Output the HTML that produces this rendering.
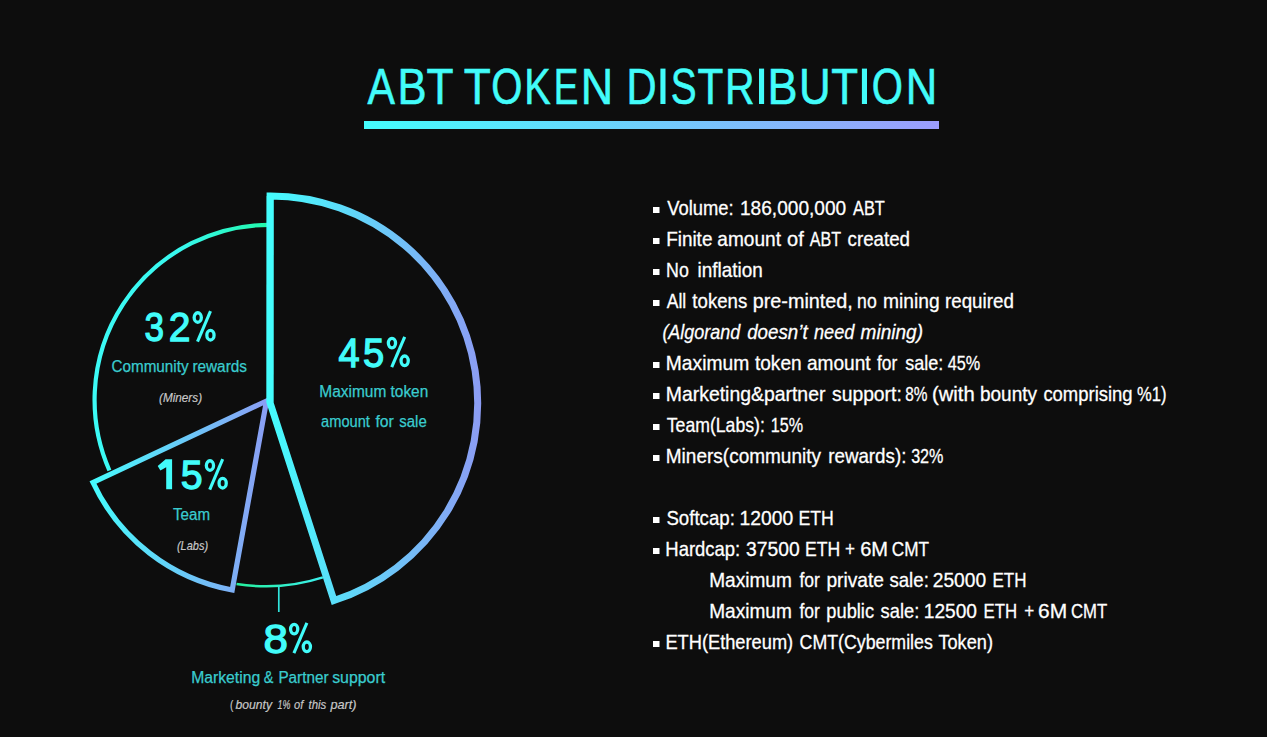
<!DOCTYPE html>
<html><head><meta charset="utf-8">
<style>
html,body{margin:0;padding:0;background:#0d0d0d;width:1267px;height:737px;overflow:hidden;}
svg{display:block;}
text{font-family:"Liberation Sans",sans-serif;}
</style></head>
<body>
<svg width="1267" height="737" viewBox="0 0 1267 737">
<defs>
<linearGradient id="gbar" x1="0" y1="0" x2="1" y2="0">
<stop offset="0" stop-color="#44fdfd"/><stop offset="1" stop-color="#9c9cfc"/>
</linearGradient>
<linearGradient id="g45" gradientUnits="userSpaceOnUse" x1="267" y1="0" x2="481" y2="0">
<stop offset="0" stop-color="#44fdfd"/><stop offset="1" stop-color="#8c9cf4"/>
</linearGradient>
<linearGradient id="g15" gradientUnits="userSpaceOnUse" x1="89" y1="0" x2="270" y2="0">
<stop offset="0" stop-color="#44fdfd"/><stop offset="1" stop-color="#8c9cf4"/>
</linearGradient>
<linearGradient id="g32" gradientUnits="userSpaceOnUse" x1="92" y1="0" x2="270" y2="0">
<stop offset="0" stop-color="#3cfaf6"/><stop offset="0.5" stop-color="#38f8ee"/><stop offset="1" stop-color="#20f8a8"/>
</linearGradient>
<linearGradient id="g8" gradientUnits="userSpaceOnUse" x1="236" y1="0" x2="323" y2="0">
<stop offset="0" stop-color="#24f09c"/><stop offset="1" stop-color="#3cf0ee"/>
</linearGradient>
</defs>
<g id="shapes">
<rect x="364" y="121" width="575" height="8" fill="url(#gbar)"/>
<path d="M 109.4 470.5 A 175.2 175.2 0 0 1 270 224.8" fill="none" stroke="url(#g32)" stroke-width="4.2"/>
<path d="M 236.5 583.9 A 186 186 0 0 0 322.9 577.4" fill="none" stroke="url(#g8)" stroke-width="2.5"/>
<line x1="278.8" y1="586" x2="278.8" y2="612" stroke="#30e4dc" stroke-width="1.7"/>
<path d="M 266.5 401 L 93 482.5 A 192 192 0 0 0 232.2 590 Z" fill="none" stroke="url(#g15)" stroke-width="5.2" stroke-linejoin="miter"/>
<path d="M 270 402.5 L 270.1 195.9 A 207.3 207.3 0 0 1 334 600.5 Z" fill="none" stroke="url(#g45)" stroke-width="7" stroke-linejoin="miter"/>
<path d="M 270 402.5 L 270.1 195.9" fill="none" stroke="#44fdfd" stroke-width="6.8"/>
<rect x="653" y="207" width="6.5" height="6" fill="#ffffff"/>
<rect x="653" y="238" width="6.5" height="6" fill="#ffffff"/>
<rect x="653" y="269" width="6.5" height="6" fill="#ffffff"/>
<rect x="653" y="300" width="6.5" height="6" fill="#ffffff"/>
<rect x="653" y="362" width="6.5" height="6" fill="#ffffff"/>
<rect x="653" y="393" width="6.5" height="6" fill="#ffffff"/>
<rect x="653" y="424" width="6.5" height="6" fill="#ffffff"/>
<rect x="653" y="455" width="6.5" height="6" fill="#ffffff"/>
<rect x="653" y="517" width="6.5" height="6" fill="#ffffff"/>
<rect x="653" y="548" width="6.5" height="6" fill="#ffffff"/>
<rect x="653" y="641" width="6.5" height="6" fill="#ffffff"/>
</g>
<g id="pcts">
<rect id="titleI" x="660.4" y="68.6" width="5.1" height="35.4" fill="#42fcfa"/>
<rect x="759.0" y="68.6" width="5.1" height="35.4" fill="#42fcfa"/>
<rect x="861.9" y="68.6" width="5.1" height="35.4" fill="#42fcfa"/>

<defs><g id="pct" fill="none" stroke="#42fcfa">
<ellipse cx="5.15" cy="6.9" rx="3.6" ry="4.75" stroke-width="3.3"/>
<ellipse cx="17.85" cy="24.6" rx="3.6" ry="4.8" stroke-width="3.3"/>
<line x1="17.9" y1="0.6" x2="4.9" y2="31.0" stroke-width="3.1"/>
</g></defs>
<path id="one15" d="M 165.6 459.2 L 172.1 459.2 L 172.1 489.3 L 166.2 489.3 L 166.2 467.2 L 160.4 470.6 L 157.7 466.0 Z" fill="#42fcfa"/>
<use href="#pct" x="192.6" y="310.6"/>
<use href="#pct" x="386.8" y="336.2"/>
<use href="#pct" x="204.8" y="458.6"/>
<use href="#pct" x="289.0" y="622.2"/>
</g>
<text id="tl0" x="367.56" y="104.00" style="font-size:50.50px;fill:#42fcfa;stroke:#42fcfa;stroke-width:0.6px;" textLength="27.47" lengthAdjust="spacingAndGlyphs">A</text>
<text id="tl1" x="397.45" y="104.00" style="font-size:50.50px;fill:#42fcfa;stroke:#42fcfa;stroke-width:0.6px;" textLength="29.11" lengthAdjust="spacingAndGlyphs">B</text>
<text id="tl2" x="426.59" y="104.00" style="font-size:50.50px;fill:#42fcfa;stroke:#42fcfa;stroke-width:0.6px;" textLength="27.04" lengthAdjust="spacingAndGlyphs">T</text>
<text id="tl3" x="463.78" y="104.00" style="font-size:50.50px;fill:#42fcfa;stroke:#42fcfa;stroke-width:0.6px;" textLength="27.04" lengthAdjust="spacingAndGlyphs">T</text>
<text id="tl4" x="491.33" y="104.00" style="font-size:50.50px;fill:#42fcfa;stroke:#42fcfa;stroke-width:0.6px;" textLength="31.15" lengthAdjust="spacingAndGlyphs">O</text>
<text id="tl5" x="524.36" y="104.00" style="font-size:50.50px;fill:#42fcfa;stroke:#42fcfa;stroke-width:0.6px;" textLength="26.42" lengthAdjust="spacingAndGlyphs">K</text>
<text id="tl6" x="553.69" y="104.00" style="font-size:50.50px;fill:#42fcfa;stroke:#42fcfa;stroke-width:0.6px;" textLength="24.57" lengthAdjust="spacingAndGlyphs">E</text>
<text id="tl7" x="580.82" y="104.00" style="font-size:50.50px;fill:#42fcfa;stroke:#42fcfa;stroke-width:0.6px;" textLength="32.42" lengthAdjust="spacingAndGlyphs">N</text>
<text id="tl8" x="626.51" y="104.00" style="font-size:50.50px;fill:#42fcfa;stroke:#42fcfa;stroke-width:0.6px;" textLength="30.11" lengthAdjust="spacingAndGlyphs">D</text>
<text id="tl10" x="670.65" y="104.00" style="font-size:50.50px;fill:#42fcfa;stroke:#42fcfa;stroke-width:0.6px;" textLength="25.86" lengthAdjust="spacingAndGlyphs">S</text>
<text id="tl11" x="697.39" y="104.00" style="font-size:50.50px;fill:#42fcfa;stroke:#42fcfa;stroke-width:0.6px;" textLength="25.82" lengthAdjust="spacingAndGlyphs">T</text>
<text id="tl12" x="724.92" y="104.00" style="font-size:50.50px;fill:#42fcfa;stroke:#42fcfa;stroke-width:0.6px;" textLength="29.57" lengthAdjust="spacingAndGlyphs">R</text>
<text id="tl14" x="767.56" y="104.00" style="font-size:50.50px;fill:#42fcfa;stroke:#42fcfa;stroke-width:0.6px;" textLength="30.03" lengthAdjust="spacingAndGlyphs">B</text>
<text id="tl15" x="799.10" y="104.00" style="font-size:50.50px;fill:#42fcfa;stroke:#42fcfa;stroke-width:0.6px;" textLength="31.68" lengthAdjust="spacingAndGlyphs">U</text>
<text id="tl16" x="831.20" y="104.00" style="font-size:50.50px;fill:#42fcfa;stroke:#42fcfa;stroke-width:0.6px;" textLength="26.81" lengthAdjust="spacingAndGlyphs">T</text>
<text id="tl18" x="871.70" y="104.00" style="font-size:50.50px;fill:#42fcfa;stroke:#42fcfa;stroke-width:0.6px;" textLength="31.15" lengthAdjust="spacingAndGlyphs">O</text>
<text id="tl19" x="905.85" y="104.00" style="font-size:50.50px;fill:#42fcfa;stroke:#42fcfa;stroke-width:0.6px;" textLength="31.46" lengthAdjust="spacingAndGlyphs">N</text>
<text id="p32a" x="144.38" y="341.30" style="font-size:41.50px;fill:#42fcfa;stroke:#42fcfa;stroke-width:1.3px;" textLength="19.54" lengthAdjust="spacingAndGlyphs">3</text>
<text id="p32b" x="168.70" y="341.30" style="font-size:41.50px;fill:#42fcfa;stroke:#42fcfa;stroke-width:1.3px;" textLength="21.71" lengthAdjust="spacingAndGlyphs">2</text>
<text id="l32_0" x="111.50" y="371.50" style="font-size:16.00px;fill:#3acccf;stroke:#3acccf;stroke-width:0.25px;" textLength="77.00" lengthAdjust="spacingAndGlyphs">Community</text>
<text id="l32_1" x="192.38" y="371.50" style="font-size:16.00px;fill:#3acccf;stroke:#3acccf;stroke-width:0.25px;" textLength="54.62" lengthAdjust="spacingAndGlyphs">rewards</text>
<text id="n32" x="159.00" y="401.50" style="font-size:13.50px;fill:#c8c8c8;stroke:#c8c8c8;stroke-width:0.2px;font-style:italic;" textLength="43.04" lengthAdjust="spacingAndGlyphs">(Miners)</text>
<text id="p45a" x="338.57" y="366.80" style="font-size:41.50px;fill:#42fcfa;stroke:#42fcfa;stroke-width:1.3px;" textLength="21.13" lengthAdjust="spacingAndGlyphs">4</text>
<text id="p45b" x="362.92" y="366.80" style="font-size:41.50px;fill:#42fcfa;stroke:#42fcfa;stroke-width:1.3px;" textLength="21.19" lengthAdjust="spacingAndGlyphs">5</text>
<text id="l45a_0" x="319.28" y="397.00" style="font-size:16.00px;fill:#3acccf;stroke:#3acccf;stroke-width:0.25px;" textLength="67.03" lengthAdjust="spacingAndGlyphs">Maximum</text>
<text id="l45a_1" x="390.57" y="397.00" style="font-size:16.00px;fill:#3acccf;stroke:#3acccf;stroke-width:0.25px;" textLength="37.65" lengthAdjust="spacingAndGlyphs">token</text>
<text id="l45b_0" x="321.10" y="426.60" style="font-size:16.00px;fill:#3acccf;stroke:#3acccf;stroke-width:0.25px;" textLength="48.82" lengthAdjust="spacingAndGlyphs">amount</text>
<text id="l45b_1" x="375.43" y="426.60" style="font-size:16.00px;fill:#3acccf;stroke:#3acccf;stroke-width:0.25px;" textLength="18.34" lengthAdjust="spacingAndGlyphs">for</text>
<text id="l45b_2" x="399.24" y="426.60" style="font-size:16.00px;fill:#3acccf;stroke:#3acccf;stroke-width:0.25px;" textLength="27.53" lengthAdjust="spacingAndGlyphs">sale</text>
<text id="p15b" x="180.69" y="489.30" style="font-size:41.50px;fill:#42fcfa;stroke:#42fcfa;stroke-width:1.3px;" textLength="21.87" lengthAdjust="spacingAndGlyphs">5</text>
<text id="l15" x="172.98" y="519.60" style="font-size:16.00px;fill:#3acccf;stroke:#3acccf;stroke-width:0.25px;" textLength="37.07" lengthAdjust="spacingAndGlyphs">Team</text>
<text id="n15" x="176.98" y="549.50" style="font-size:13.50px;fill:#c8c8c8;stroke:#c8c8c8;stroke-width:0.2px;font-style:italic;" textLength="31.10" lengthAdjust="spacingAndGlyphs">(Labs)</text>
<text id="p8d" x="263.46" y="653.00" style="font-size:41.50px;fill:#42fcfa;stroke:#42fcfa;stroke-width:1.3px;" textLength="24.44" lengthAdjust="spacingAndGlyphs">8</text>
<text id="l8_0" x="191.19" y="682.80" style="font-size:16.00px;fill:#3acccf;stroke:#3acccf;stroke-width:0.25px;" textLength="68.92" lengthAdjust="spacingAndGlyphs">Marketing</text>
<text id="l8_1" x="263.64" y="682.80" style="font-size:16.00px;fill:#3acccf;stroke:#3acccf;stroke-width:0.25px;" textLength="9.63" lengthAdjust="spacingAndGlyphs">&amp;</text>
<text id="l8_2" x="278.38" y="682.80" style="font-size:16.00px;fill:#3acccf;stroke:#3acccf;stroke-width:0.25px;" textLength="50.13" lengthAdjust="spacingAndGlyphs">Partner</text>
<text id="l8_3" x="332.18" y="682.80" style="font-size:16.00px;fill:#3acccf;stroke:#3acccf;stroke-width:0.25px;" textLength="52.93" lengthAdjust="spacingAndGlyphs">support</text>
<text id="n8_0" x="230.00" y="708.50" style="font-size:13.50px;fill:#c8c8c8;stroke:#c8c8c8;stroke-width:0.2px;" textLength="3.36" lengthAdjust="spacingAndGlyphs">(</text>
<text id="n8_1" x="235.46" y="708.50" style="font-size:13.50px;fill:#c8c8c8;stroke:#c8c8c8;stroke-width:0.2px;font-style:italic;" textLength="36.56" lengthAdjust="spacingAndGlyphs">bounty</text>
<text id="n8_2" x="277.46" y="708.50" style="font-size:13.50px;fill:#c8c8c8;stroke:#c8c8c8;stroke-width:0.2px;font-style:italic;" textLength="12.86" lengthAdjust="spacingAndGlyphs">1%</text>
<text id="n8_3" x="294.00" y="708.50" style="font-size:13.50px;fill:#c8c8c8;stroke:#c8c8c8;stroke-width:0.2px;font-style:italic;" textLength="9.26" lengthAdjust="spacingAndGlyphs">of</text>
<text id="n8_4" x="308.53" y="708.50" style="font-size:13.50px;fill:#c8c8c8;stroke:#c8c8c8;stroke-width:0.2px;font-style:italic;" textLength="17.81" lengthAdjust="spacingAndGlyphs">this</text>
<text id="n8_5" x="330.50" y="708.50" style="font-size:13.50px;fill:#c8c8c8;stroke:#c8c8c8;stroke-width:0.2px;font-style:italic;" textLength="26.03" lengthAdjust="spacingAndGlyphs">part)</text>
<text id="r0_0" x="667.17" y="214.70" style="font-size:20.30px;fill:#ffffff;stroke:#ffffff;stroke-width:0.3px;" textLength="66.44" lengthAdjust="spacingAndGlyphs">Volume:</text>
<text id="r0_1" x="739.98" y="214.70" style="font-size:20.30px;fill:#ffffff;stroke:#ffffff;stroke-width:0.3px;" textLength="106.23" lengthAdjust="spacingAndGlyphs">186,000,000</text>
<text id="r0_2" x="852.95" y="214.70" style="font-size:20.30px;fill:#ffffff;stroke:#ffffff;stroke-width:0.3px;" textLength="31.91" lengthAdjust="spacingAndGlyphs">ABT</text>
<text id="r1_0" x="666.16" y="245.70" style="font-size:20.30px;fill:#ffffff;stroke:#ffffff;stroke-width:0.3px;" textLength="46.25" lengthAdjust="spacingAndGlyphs">Finite</text>
<text id="r1_1" x="717.37" y="245.70" style="font-size:20.30px;fill:#ffffff;stroke:#ffffff;stroke-width:0.3px;" textLength="63.65" lengthAdjust="spacingAndGlyphs">amount</text>
<text id="r1_2" x="787.00" y="245.70" style="font-size:20.30px;fill:#ffffff;stroke:#ffffff;stroke-width:0.3px;" textLength="16.71" lengthAdjust="spacingAndGlyphs">of</text>
<text id="r1_3" x="809.78" y="245.70" style="font-size:20.30px;fill:#ffffff;stroke:#ffffff;stroke-width:0.3px;" textLength="31.30" lengthAdjust="spacingAndGlyphs">ABT</text>
<text id="r1_4" x="847.59" y="245.70" style="font-size:20.30px;fill:#ffffff;stroke:#ffffff;stroke-width:0.3px;" textLength="62.42" lengthAdjust="spacingAndGlyphs">created</text>
<text id="r2_0" x="666.11" y="276.70" style="font-size:20.30px;fill:#ffffff;stroke:#ffffff;stroke-width:0.3px;" textLength="22.75" lengthAdjust="spacingAndGlyphs">No</text>
<text id="r2_1" x="697.59" y="276.70" style="font-size:20.30px;fill:#ffffff;stroke:#ffffff;stroke-width:0.3px;" textLength="65.22" lengthAdjust="spacingAndGlyphs">inflation</text>
<text id="r3_0" x="666.68" y="307.70" style="font-size:20.30px;fill:#ffffff;stroke:#ffffff;stroke-width:0.3px;" textLength="19.55" lengthAdjust="spacingAndGlyphs">All</text>
<text id="r3_1" x="692.37" y="307.70" style="font-size:20.30px;fill:#ffffff;stroke:#ffffff;stroke-width:0.3px;" textLength="54.86" lengthAdjust="spacingAndGlyphs">tokens</text>
<text id="r3_2" x="752.78" y="307.70" style="font-size:20.30px;fill:#ffffff;stroke:#ffffff;stroke-width:0.3px;" textLength="100.05" lengthAdjust="spacingAndGlyphs">pre-minted,</text>
<text id="r3_3" x="857.12" y="307.70" style="font-size:20.30px;fill:#ffffff;stroke:#ffffff;stroke-width:0.3px;" textLength="19.59" lengthAdjust="spacingAndGlyphs">no</text>
<text id="r3_4" x="883.00" y="307.70" style="font-size:20.30px;fill:#ffffff;stroke:#ffffff;stroke-width:0.3px;" textLength="56.62" lengthAdjust="spacingAndGlyphs">mining</text>
<text id="r3_5" x="945.00" y="307.70" style="font-size:20.30px;fill:#ffffff;stroke:#ffffff;stroke-width:0.3px;" textLength="68.82" lengthAdjust="spacingAndGlyphs">required</text>
<text id="r4_0" x="662.39" y="338.70" style="font-size:20.30px;fill:#ffffff;stroke:#ffffff;stroke-width:0.3px;font-style:italic;" textLength="77.86" lengthAdjust="spacingAndGlyphs">(Algorand</text>
<text id="r4_1" x="747.17" y="338.70" style="font-size:20.30px;fill:#ffffff;stroke:#ffffff;stroke-width:0.3px;font-style:italic;" textLength="60.45" lengthAdjust="spacingAndGlyphs">doesn’t</text>
<text id="r4_2" x="814.00" y="338.70" style="font-size:20.30px;fill:#ffffff;stroke:#ffffff;stroke-width:0.3px;font-style:italic;" textLength="40.47" lengthAdjust="spacingAndGlyphs">need</text>
<text id="r4_3" x="860.58" y="338.70" style="font-size:20.30px;fill:#ffffff;stroke:#ffffff;stroke-width:0.3px;font-style:italic;" textLength="62.42" lengthAdjust="spacingAndGlyphs">mining)</text>
<text id="r5_0" x="665.77" y="369.70" style="font-size:20.30px;fill:#ffffff;stroke:#ffffff;stroke-width:0.3px;" textLength="83.44" lengthAdjust="spacingAndGlyphs">Maximum</text>
<text id="r5_1" x="754.94" y="369.70" style="font-size:20.30px;fill:#ffffff;stroke:#ffffff;stroke-width:0.3px;" textLength="46.74" lengthAdjust="spacingAndGlyphs">token</text>
<text id="r5_2" x="806.96" y="369.70" style="font-size:20.30px;fill:#ffffff;stroke:#ffffff;stroke-width:0.3px;" textLength="63.67" lengthAdjust="spacingAndGlyphs">amount</text>
<text id="r5_3" x="877.06" y="369.70" style="font-size:20.30px;fill:#ffffff;stroke:#ffffff;stroke-width:0.3px;" textLength="20.25" lengthAdjust="spacingAndGlyphs">for</text>
<text id="r5_4" x="905.16" y="369.70" style="font-size:20.30px;fill:#ffffff;stroke:#ffffff;stroke-width:0.3px;" textLength="38.10" lengthAdjust="spacingAndGlyphs">sale:</text>
<text id="r5_5" x="947.76" y="369.70" style="font-size:20.30px;fill:#ffffff;stroke:#ffffff;stroke-width:0.3px;" textLength="32.46" lengthAdjust="spacingAndGlyphs">45%</text>
<text id="r6_0" x="665.79" y="400.70" style="font-size:20.30px;fill:#ffffff;stroke:#ffffff;stroke-width:0.3px;" textLength="159.62" lengthAdjust="spacingAndGlyphs">Marketing&amp;partner</text>
<text id="r6_1" x="831.98" y="400.70" style="font-size:20.30px;fill:#ffffff;stroke:#ffffff;stroke-width:0.3px;" textLength="69.84" lengthAdjust="spacingAndGlyphs">support:</text>
<text id="r6_2" x="905.27" y="400.70" style="font-size:20.30px;fill:#ffffff;stroke:#ffffff;stroke-width:0.3px;" textLength="22.23" lengthAdjust="spacingAndGlyphs">8%</text>
<text id="r6_3" x="931.96" y="400.70" style="font-size:20.30px;fill:#ffffff;stroke:#ffffff;stroke-width:0.3px;" textLength="42.68" lengthAdjust="spacingAndGlyphs">(with</text>
<text id="r6_4" x="979.98" y="400.70" style="font-size:20.30px;fill:#ffffff;stroke:#ffffff;stroke-width:0.3px;" textLength="57.03" lengthAdjust="spacingAndGlyphs">bounty</text>
<text id="r6_5" x="1043.39" y="400.70" style="font-size:20.30px;fill:#ffffff;stroke:#ffffff;stroke-width:0.3px;" textLength="89.23" lengthAdjust="spacingAndGlyphs">comprising</text>
<text id="r6_6" x="1136.96" y="400.70" style="font-size:20.30px;fill:#ffffff;stroke:#ffffff;stroke-width:0.3px;" textLength="29.47" lengthAdjust="spacingAndGlyphs">%1)</text>
<text id="r7_0" x="666.79" y="431.70" style="font-size:20.30px;fill:#ffffff;stroke:#ffffff;stroke-width:0.3px;" textLength="98.03" lengthAdjust="spacingAndGlyphs">Team(Labs):</text>
<text id="r7_1" x="770.76" y="431.70" style="font-size:20.30px;fill:#ffffff;stroke:#ffffff;stroke-width:0.3px;" textLength="32.24" lengthAdjust="spacingAndGlyphs">15%</text>
<text id="r8_0" x="665.80" y="462.70" style="font-size:20.30px;fill:#ffffff;stroke:#ffffff;stroke-width:0.3px;" textLength="155.21" lengthAdjust="spacingAndGlyphs">Miners(community</text>
<text id="r8_1" x="828.20" y="462.70" style="font-size:20.30px;fill:#ffffff;stroke:#ffffff;stroke-width:0.3px;" textLength="78.23" lengthAdjust="spacingAndGlyphs">rewards):</text>
<text id="r8_2" x="911.15" y="462.70" style="font-size:20.30px;fill:#ffffff;stroke:#ffffff;stroke-width:0.3px;" textLength="32.31" lengthAdjust="spacingAndGlyphs">32%</text>
<text id="r10_0" x="666.40" y="524.70" style="font-size:20.30px;fill:#ffffff;stroke:#ffffff;stroke-width:0.3px;" textLength="68.43" lengthAdjust="spacingAndGlyphs">Softcap:</text>
<text id="r10_1" x="739.55" y="524.70" style="font-size:20.30px;fill:#ffffff;stroke:#ffffff;stroke-width:0.3px;" textLength="53.68" lengthAdjust="spacingAndGlyphs">12000</text>
<text id="r10_2" x="798.53" y="524.70" style="font-size:20.30px;fill:#ffffff;stroke:#ffffff;stroke-width:0.3px;" textLength="35.34" lengthAdjust="spacingAndGlyphs">ETH</text>
<text id="r11_0" x="665.37" y="555.70" style="font-size:20.30px;fill:#ffffff;stroke:#ffffff;stroke-width:0.3px;" textLength="74.88" lengthAdjust="spacingAndGlyphs">Hardcap:</text>
<text id="r11_1" x="745.98" y="555.70" style="font-size:20.30px;fill:#ffffff;stroke:#ffffff;stroke-width:0.3px;" textLength="53.65" lengthAdjust="spacingAndGlyphs">37500</text>
<text id="r11_2" x="804.97" y="555.70" style="font-size:20.30px;fill:#ffffff;stroke:#ffffff;stroke-width:0.3px;" textLength="35.15" lengthAdjust="spacingAndGlyphs">ETH</text>
<text id="r11_3" x="845.00" y="555.70" style="font-size:20.30px;fill:#ffffff;stroke:#ffffff;stroke-width:0.3px;" textLength="10.00" lengthAdjust="spacingAndGlyphs">+</text>
<text id="r11_4" x="860.14" y="555.70" style="font-size:20.30px;fill:#ffffff;stroke:#ffffff;stroke-width:0.3px;" textLength="27.92" lengthAdjust="spacingAndGlyphs">6M</text>
<text id="r11_5" x="891.80" y="555.70" style="font-size:20.30px;fill:#ffffff;stroke:#ffffff;stroke-width:0.3px;" textLength="37.23" lengthAdjust="spacingAndGlyphs">CMT</text>
<text id="r12_0" x="709.19" y="586.70" style="font-size:20.30px;fill:#ffffff;stroke:#ffffff;stroke-width:0.3px;" textLength="82.63" lengthAdjust="spacingAndGlyphs">Maximum</text>
<text id="r12_1" x="799.45" y="586.70" style="font-size:20.30px;fill:#ffffff;stroke:#ffffff;stroke-width:0.3px;" textLength="20.45" lengthAdjust="spacingAndGlyphs">for</text>
<text id="r12_2" x="826.38" y="586.70" style="font-size:20.30px;fill:#ffffff;stroke:#ffffff;stroke-width:0.3px;" textLength="57.62" lengthAdjust="spacingAndGlyphs">private</text>
<text id="r12_3" x="889.40" y="586.70" style="font-size:20.30px;fill:#ffffff;stroke:#ffffff;stroke-width:0.3px;" textLength="39.45" lengthAdjust="spacingAndGlyphs">sale:</text>
<text id="r12_4" x="932.76" y="586.70" style="font-size:20.30px;fill:#ffffff;stroke:#ffffff;stroke-width:0.3px;" textLength="53.44" lengthAdjust="spacingAndGlyphs">25000</text>
<text id="r12_5" x="992.53" y="586.70" style="font-size:20.30px;fill:#ffffff;stroke:#ffffff;stroke-width:0.3px;" textLength="33.96" lengthAdjust="spacingAndGlyphs">ETH</text>
<text id="r13_0" x="709.19" y="617.70" style="font-size:20.30px;fill:#ffffff;stroke:#ffffff;stroke-width:0.3px;" textLength="82.63" lengthAdjust="spacingAndGlyphs">Maximum</text>
<text id="r13_1" x="799.45" y="617.70" style="font-size:20.30px;fill:#ffffff;stroke:#ffffff;stroke-width:0.3px;" textLength="20.45" lengthAdjust="spacingAndGlyphs">for</text>
<text id="r13_2" x="826.37" y="617.70" style="font-size:20.30px;fill:#ffffff;stroke:#ffffff;stroke-width:0.3px;" textLength="47.67" lengthAdjust="spacingAndGlyphs">public</text>
<text id="r13_3" x="880.56" y="617.70" style="font-size:20.30px;fill:#ffffff;stroke:#ffffff;stroke-width:0.3px;" textLength="38.71" lengthAdjust="spacingAndGlyphs">sale:</text>
<text id="r13_4" x="923.78" y="617.70" style="font-size:20.30px;fill:#ffffff;stroke:#ffffff;stroke-width:0.3px;" textLength="53.26" lengthAdjust="spacingAndGlyphs">12500</text>
<text id="r13_5" x="983.54" y="617.70" style="font-size:20.30px;fill:#ffffff;stroke:#ffffff;stroke-width:0.3px;" textLength="33.54" lengthAdjust="spacingAndGlyphs">ETH</text>
<text id="r13_6" x="1024.34" y="617.70" style="font-size:20.30px;fill:#ffffff;stroke:#ffffff;stroke-width:0.3px;" textLength="10.01" lengthAdjust="spacingAndGlyphs">+</text>
<text id="r13_7" x="1038.13" y="617.70" style="font-size:20.30px;fill:#ffffff;stroke:#ffffff;stroke-width:0.3px;" textLength="29.11" lengthAdjust="spacingAndGlyphs">6M</text>
<text id="r13_8" x="1071.00" y="617.70" style="font-size:20.30px;fill:#ffffff;stroke:#ffffff;stroke-width:0.3px;" textLength="36.23" lengthAdjust="spacingAndGlyphs">CMT</text>
<text id="r14_0" x="665.39" y="648.70" style="font-size:20.30px;fill:#ffffff;stroke:#ffffff;stroke-width:0.3px;" textLength="127.82" lengthAdjust="spacingAndGlyphs">ETH(Ethereum)</text>
<text id="r14_1" x="799.59" y="648.70" style="font-size:20.30px;fill:#ffffff;stroke:#ffffff;stroke-width:0.3px;" textLength="133.23" lengthAdjust="spacingAndGlyphs">CMT(Cybermiles</text>
<text id="r14_2" x="938.38" y="648.70" style="font-size:20.30px;fill:#ffffff;stroke:#ffffff;stroke-width:0.3px;" textLength="54.62" lengthAdjust="spacingAndGlyphs">Token)</text>
</svg>
</body></html>
